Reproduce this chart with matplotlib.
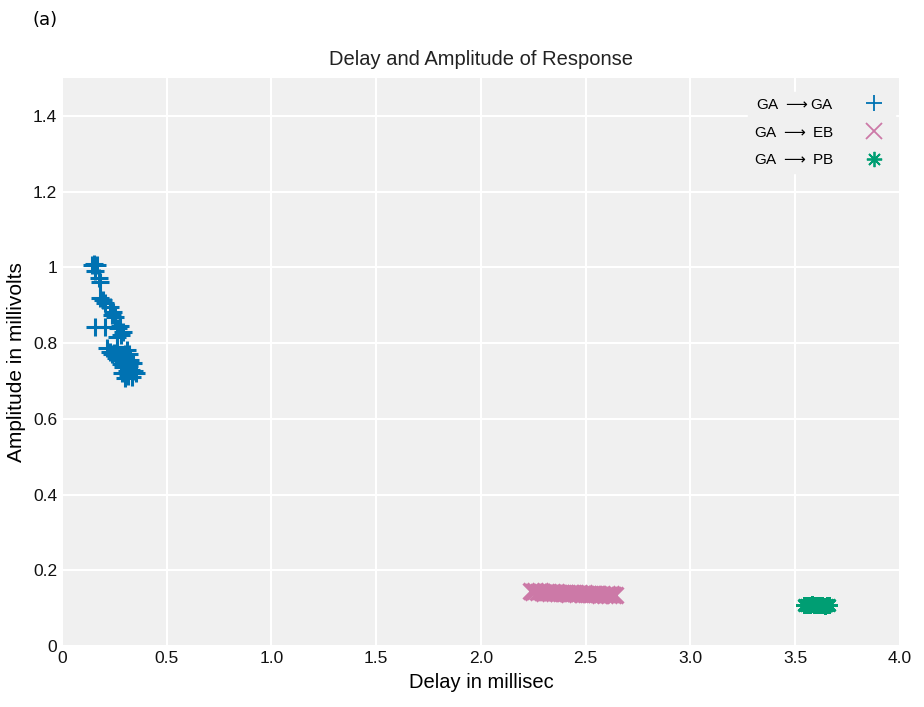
import matplotlib
matplotlib.use("Agg")
import matplotlib.pyplot as plt

plt.rcParams['font.family'] = ['Liberation Sans', 'DejaVu Sans']

# GA -> GA cloud (delay ms, amplitude mV)
ga_x = [0.143, 0.153, 0.167, 0.160, 0.177, 0.181, 0.180, 0.196, 0.205, 0.230, 0.245,
        0.240, 0.255, 0.158, 0.205, 0.270, 0.290, 0.280, 0.265, 0.275, 0.215, 0.230,
        0.260, 0.310, 0.325, 0.290, 0.340, 0.356, 0.288, 0.335, 0.300, 0.250, 0.270,
        0.300, 0.320, 0.310, 0.330, 0.345, 0.280, 0.295, 0.315, 0.262, 0.240, 0.322]
ga_y = [1.006, 1.010, 1.006, 0.990, 0.972, 0.960, 0.920, 0.914, 0.905, 0.896, 0.882,
        0.875, 0.870, 0.843, 0.843, 0.840, 0.830, 0.822, 0.815, 0.845, 0.787, 0.777,
        0.760, 0.782, 0.755, 0.737, 0.747, 0.720, 0.720, 0.710, 0.707, 0.775, 0.765,
        0.770, 0.740, 0.725, 0.730, 0.725, 0.745, 0.755, 0.712, 0.790, 0.770, 0.770]

# GA -> EB band
eb_x = [2.24, 2.25, 2.26, 2.27, 2.28, 2.29, 2.30, 2.31, 2.32, 2.33, 2.34, 2.35, 2.36,
        2.37, 2.38, 2.39, 2.40, 2.41, 2.42, 2.43, 2.44, 2.45, 2.46, 2.47, 2.48, 2.49,
        2.50, 2.51, 2.52, 2.53, 2.54, 2.55, 2.56, 2.57, 2.58, 2.59, 2.60, 2.61, 2.62,
        2.63, 2.64]
eb_y = [0.144, 0.143, 0.145, 0.142, 0.144, 0.143, 0.141, 0.143, 0.142, 0.140, 0.142,
        0.141, 0.143, 0.140, 0.141, 0.139, 0.141, 0.140, 0.138, 0.140, 0.139, 0.140,
        0.138, 0.139, 0.137, 0.139, 0.138, 0.136, 0.138, 0.137, 0.136, 0.138, 0.136,
        0.135, 0.137, 0.135, 0.136, 0.134, 0.136, 0.135, 0.134]

# GA -> PB band
pb_x = [3.54, 3.55, 3.56, 3.57, 3.58, 3.59, 3.60, 3.61, 3.62, 3.63, 3.64, 3.65, 3.66]
pb_y = [0.108, 0.109, 0.107, 0.108, 0.110, 0.107, 0.108, 0.109, 0.107, 0.108, 0.106,
        0.108, 0.107]

xticks = [0, 0.5, 1.0, 1.5, 2.0, 2.5, 3.0, 3.5, 4.0]
xtick_labels = ['0', '0.5', '1.0', '1.5', '2.0', '2.5', '3.0', '3.5', '4.0']
yticks = [0, 0.2, 0.4, 0.6, 0.8, 1.0, 1.2, 1.4]
ytick_labels = ['0', '0.2', '0.4', '0.6', '0.8', '1', '1.2', '1.4']

fig = plt.figure(figsize=(9.24, 7.07), dpi=100)
ax = fig.add_axes([0.067, 0.0863, 0.907, 0.8034])
ax.set_facecolor('#f0f0f0')

ax.plot(ga_x, ga_y, '+', color='#0072B2', markersize=13, mew=2.2,
        label='GA $\\longrightarrow$GA')
ax.plot(eb_x, eb_y, 'x', color='#CC79A7', markersize=12, mew=2.2,
        label='GA $\\longrightarrow$ EB')
ax.plot(pb_x, pb_y, color='#009E73', markersize=12, mew=2,
        label='GA $\\longrightarrow$ PB', marker=(8, 2, 0), linestyle='none')

ax.set_xlim(0, 4)
ax.set_ylim(0, 1.5)
ax.set_xticks(xticks)
ax.set_xticklabels(xtick_labels)
ax.set_yticks(yticks)
ax.set_yticklabels(ytick_labels)
ax.tick_params(length=0, labelsize=12.5, colors='#111111')
ax.grid(True, color='white', linewidth=1.5)
ax.set_axisbelow(True)
for s in ax.spines.values():
    s.set_visible(False)

ax.set_xlabel('Delay in millisec', fontsize=14.5, labelpad=5)
ax.set_ylabel('Amplitude in millivolts', fontsize=15, labelpad=5)
ax.set_title('Delay and Amplitude of Response', fontsize=14.5, color='#222222', pad=9)

leg = ax.legend(loc='upper right', bbox_to_anchor=(1.0, 0.984), markerfirst=False,
                frameon=True, facecolor='#f0f0f0', edgecolor='#f0f0f0', fontsize=11,
                handletextpad=1.6, borderaxespad=0.3, labelspacing=0.9)
for h in leg.legend_handles:
    h.set_markeredgewidth(1.3)
    h.set_markersize(11)
leg.get_frame().set_alpha(1)

fig.text(0.035, 0.972, '(a)', fontsize=13, family='DejaVu Sans', va='center')

fig.savefig('out.png', dpi=100)
